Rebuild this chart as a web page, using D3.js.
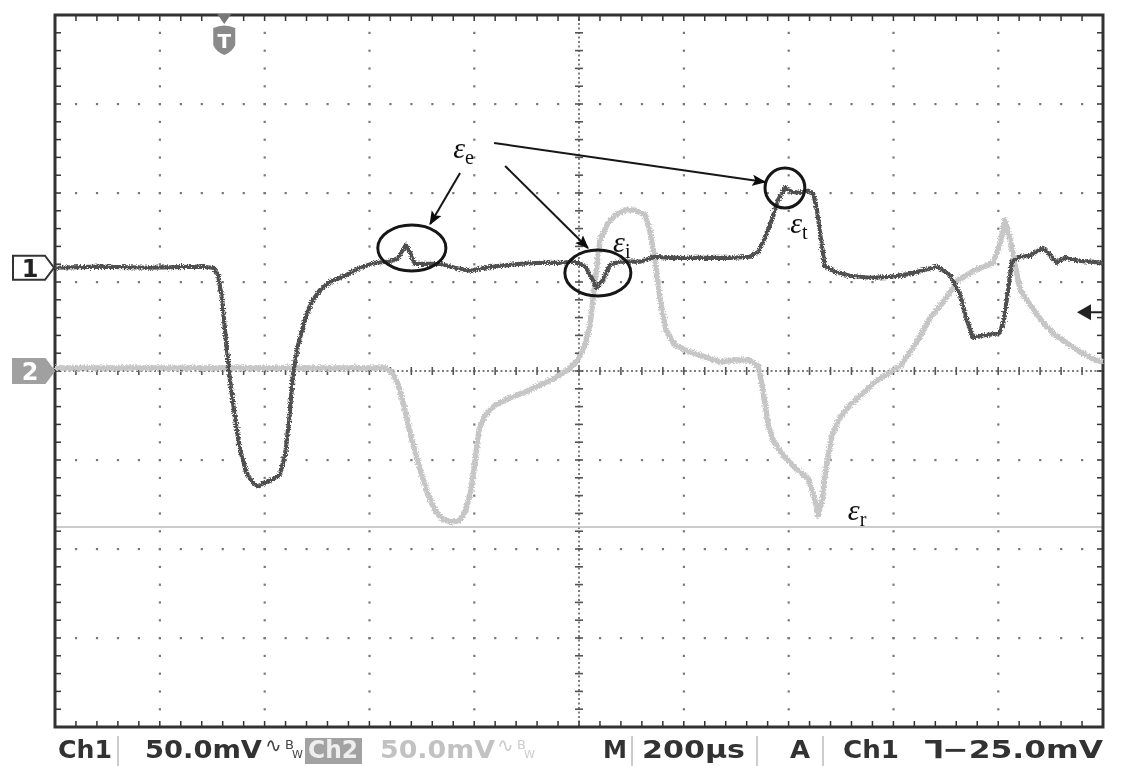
<!DOCTYPE html>
<html>
<head>
    <meta charset="utf-8">
    <title>D3.js 示波器波形</title>
    <script src="https://d3js.org/d3.v7.min.js"></script>
    <style>
        body { margin: 0; background: #fff; }
        .status { font-family: "DejaVu Sans", sans-serif; font-size: 25px; font-weight: bold; }
        .eps { font-family: "Liberation Serif", "DejaVu Serif", serif; font-style: italic; fill: #111; }
    </style>
</head>
<body>
<script>
// 示波器设置
var timePerDiv = 200;   // µs/div
var voltPerDiv = 50;    // mV/div
var ch1Pos = 1.16;      // div, Ch1 零位
var ch2Pos = 0;         // div, Ch2 零位
var triggerTime = 323;  // µs
var triggerLevel = -25; // mV (Ch1)
var cursorLevel = -87.6; // mV (Ch2) 光标线

// Ch1 (深色) 时间 µs / 电压 mV
var ch1Time = [0, 86, 181, 277, 302, 311, 319, 326, 334, 344, 353, 365, 376, 387, 399, 414, 429, 439, 447, 454,
    464, 477, 490, 506, 525, 553, 582, 611, 639, 655, 664, 670, 677, 687, 706, 735, 763, 792, 821, 849,
    887, 926, 964, 992, 1011, 1021, 1034, 1046, 1059, 1078, 1116, 1145, 1174, 1231, 1288, 1326, 1342, 1355, 1368, 1380,
    1393, 1406, 1422, 1437, 1447, 1454, 1462, 1469, 1489, 1517, 1555, 1594, 1632, 1660, 1683, 1708, 1727, 1740, 1752, 1765,
    1784, 1803, 1811, 1819, 1826, 1842, 1861, 1885, 1899, 1912, 1927, 1956, 1975, 2000];
var ch1mV = [0, 0.6, 0, 0.6, 0, -3.9, -18.0, -40.4, -62.9, -85.4, -102.2, -114.6, -120.2, -123.0, -120.8, -119.1, -116.3, -105.1, -85.4, -60.1,
    -43.3, -29.2, -19.1, -12.4, -7.9, -4.5, 0, 2.8, 3.4, 5.6, 10.1, 12.9, 9.0, 2.2, 2.2, 2.2, 0, -1.7, 0, 1.1,
    2.2, 2.8, 2.8, 3.4, 1.1, -3.9, -11.2, -6.7, 1.7, 3.4, 3.4, 6.2, 5.6, 5.6, 5.6, 6.2, 9.0, 16.9, 27.0, 38.2,
    44.9, 42.7, 42.1, 43.3, 41.6, 32.6, 15.7, 1.1, -2.2, -4.5, -5.6, -5.1, -3.4, -1.1, 0.6, -3.9, -15.2, -29.2, -39.3, -38.2,
    -37.6, -36.5, -29.2, -12.4, 3.4, 6.2, 6.7, 11.2, 7.3, 2.8, 5.6, 3.9, 3.4, 2.8];

// Ch2 (浅色) 时间 µs / 电压 mV
var ch2Time = [0, 181, 372, 563, 630, 643, 655, 668, 681, 697, 712, 727, 742, 758, 773, 784, 794, 802, 809, 821,
    840, 868, 897, 926, 954, 979, 998, 1011, 1021, 1031, 1040, 1053, 1069, 1088, 1107, 1126, 1135, 1145, 1155, 1166,
    1183, 1212, 1240, 1269, 1298, 1323, 1342, 1351, 1361, 1370, 1389, 1416, 1437, 1448, 1456, 1464, 1471, 1483, 1498, 1517,
    1536, 1565, 1594, 1613, 1641, 1670, 1698, 1723, 1756, 1790, 1803, 1813, 1823, 1832, 1842, 1861, 1885, 1908, 1937, 1966,
    1985, 2000];
var ch2mV = [1.7, 1.7, 1.7, 1.7, 1.7, -0.6, -7.9, -21.9, -38.8, -55.6, -69.7, -79.2, -83.7, -84.8, -83.7, -78.1, -66.9, -50.0, -33.1, -24.7,
    -19.1, -15.2, -11.8, -7.9, -3.9, 0.6, 6.2, 14.6, 25.8, 51.1, 73.6, 82.0, 87.6, 90.4, 90.4, 87.6, 79.2, 62.4, 39.9, 23.0,
    14.6, 10.7, 7.9, 5.1, 6.2, 6.2, 2.8, -10.7, -30.3, -38.8, -47.2, -55.6, -60.1, -69.7, -80.9, -72.5, -55.6, -36.0, -26.4, -19.1,
    -14.0, -6.2, -0.6, 2.8, 14.6, 29.8, 39.9, 51.1, 56.7, 60.7, 70.8, 84.8, 73.6, 59.6, 45.5, 37.1, 27.5, 20.2, 14.6, 9.0,
    6.2, 5.1];

// 标注 (屏幕坐标: 时间 µs, 电压 mV 相对屏幕中线)
var labelText = ["e", "i", "t", "r"];
var labelTime = [760, 1065, 1403, 1513];
var labelmV = [119.7, 66.9, 77.5, -83.7];
var ringTime = [681, 1036, 1393];
var ringmV = [69.1, 55.1, 102.8];
var ringRx = [65, 63, 38];   // µs
var ringRy = [12.9, 12.9, 11.2]; // mV
var arrowFrom = [[773, 111.2], [859, 115.2], [838, 128.1]];
var arrowTo = [[716, 82.6], [1017, 69.1], [1355, 106.2]];

// 状态栏文字
var statusText = ["Ch1", "50.0mV", "Ch2", "50.0mV", "M", "200\u00b5s", "A", "Ch1", "\u2142\u221225.0mV"];

// 设定SVG大小
var W = 1125, H = 766;
var plot = {left: 55, top: 15, right: 1103, bottom: 727};

var svg = d3.select("body").append("svg")
    .attr("width", W)
    .attr("height", H);

var defs = svg.append("defs");
defs.append("marker")
    .attr("id", "head")
    .attr("viewBox", "0 0 10 10")
    .attr("refX", 9).attr("refY", 5)
    .attr("markerWidth", 7).attr("markerHeight", 7)
    .attr("markerUnits", "strokeWidth")
    .attr("orient", "auto")
  .append("path")
    .attr("d", "M0,1 L10,5 L0,9 L2,5 Z")
    .attr("fill", "#111");
defs.append("filter").attr("id", "soft")
  .append("feGaussianBlur").attr("stdDeviation", 0.6);
// 波形毛刺效果
var rough = defs.append("filter").attr("id", "rough")
    .attr("x", "-5%").attr("y", "-5%").attr("width", "110%").attr("height", "110%");
rough.append("feTurbulence")
    .attr("type", "fractalNoise").attr("baseFrequency", 0.7).attr("numOctaves", 2).attr("result", "n");
rough.append("feDisplacementMap")
    .attr("in", "SourceGraphic").attr("in2", "n").attr("scale", 5)
    .attr("xChannelSelector", "R").attr("yChannelSelector", "G").attr("result", "d");
rough.append("feGaussianBlur").attr("in", "d").attr("stdDeviation", 0.5);

// 比例尺
var x = d3.scaleLinear().domain([0, 10 * timePerDiv]).range([plot.left, plot.right]);
var y = d3.scaleLinear().domain([-4 * voltPerDiv, 4 * voltPerDiv]).range([plot.bottom, plot.top]);

var g = svg.append("g").attr("filter", "url(#soft)");

// 网格点
var majorT = d3.range(0, 10 * timePerDiv + 1, timePerDiv);
var majorV = d3.range(-4 * voltPerDiv, 4 * voltPerDiv + 1, voltPerDiv);
var minorT = d3.range(0, 10 * timePerDiv + 1, timePerDiv / 5);
var minorV = d3.range(-4 * voltPerDiv, 4 * voltPerDiv + 1, voltPerDiv / 5);

var grid = g.append("g").attr("fill", "#777");
majorT.slice(1, -1).filter(function(t) { return t !== 5 * timePerDiv; }).forEach(function(t) {
    grid.selectAll(null).data(minorV.slice(1, -1)).enter().append("rect")
        .attr("x", x(t) - 1).attr("y", function(v) { return y(v) - 1; })
        .attr("width", 2.2).attr("height", 2.2);
});
majorV.slice(1, -1).filter(function(v) { return v !== 0; }).forEach(function(v) {
    grid.selectAll(null).data(minorT.slice(1, -1)).enter().append("rect")
        .attr("x", function(t) { return x(t) - 1; }).attr("y", y(v) - 1)
        .attr("width", 2.2).attr("height", 2.2);
});

// 中心十字线
var cross = g.append("g").attr("stroke", "#555");
cross.append("line")
    .attr("x1", x(0)).attr("x2", x(10 * timePerDiv))
    .attr("y1", y(0)).attr("y2", y(0))
    .attr("stroke-width", 1.5).attr("stroke-dasharray", "2,2.5");
cross.append("line")
    .attr("x1", x(5 * timePerDiv)).attr("x2", x(5 * timePerDiv))
    .attr("y1", y(-4 * voltPerDiv)).attr("y2", y(4 * voltPerDiv))
    .attr("stroke-width", 1.5).attr("stroke-dasharray", "2,2.5");
cross.selectAll(".tx").data(minorT).enter().append("line")
    .attr("x1", function(t) { return x(t); }).attr("x2", function(t) { return x(t); })
    .attr("y1", y(0) - 4).attr("y2", y(0) + 4).attr("stroke-width", 1.6);
cross.selectAll(".ty").data(minorV).enter().append("line")
    .attr("y1", function(v) { return y(v); }).attr("y2", function(v) { return y(v); })
    .attr("x1", x(5 * timePerDiv) - 4).attr("x2", x(5 * timePerDiv) + 4).attr("stroke-width", 1.6);

// Ch2 光标线
g.append("line")
    .attr("x1", x(0)).attr("x2", x(10 * timePerDiv))
    .attr("y1", y(cursorLevel + ch2Pos * voltPerDiv)).attr("y2", y(cursorLevel + ch2Pos * voltPerDiv))
    .attr("stroke", "#bbb").attr("stroke-width", 1.5);

// 边框及刻度
var frame = g.append("g").attr("stroke", "#333");
frame.append("rect")
    .attr("x", plot.left).attr("y", plot.top)
    .attr("width", plot.right - plot.left).attr("height", plot.bottom - plot.top)
    .attr("fill", "none").attr("stroke-width", 3);
frame.selectAll(".tt").data(minorT).enter().append("line")
    .attr("x1", function(t) { return x(t); }).attr("x2", function(t) { return x(t); })
    .attr("y1", plot.top).attr("y2", plot.top + 6).attr("stroke-width", 1.5);
frame.selectAll(".tb").data(minorT).enter().append("line")
    .attr("x1", function(t) { return x(t); }).attr("x2", function(t) { return x(t); })
    .attr("y1", plot.bottom).attr("y2", plot.bottom - 6).attr("stroke-width", 1.5);
frame.selectAll(".tl").data(minorV).enter().append("line")
    .attr("y1", function(v) { return y(v); }).attr("y2", function(v) { return y(v); })
    .attr("x1", plot.left).attr("x2", plot.left + 6).attr("stroke-width", 1.5);
frame.selectAll(".tr").data(minorV).enter().append("line")
    .attr("y1", function(v) { return y(v); }).attr("y2", function(v) { return y(v); })
    .attr("x1", plot.right).attr("x2", plot.right - 6).attr("stroke-width", 1.5);

// 波形
function trace(times, vals, pos) {
    return d3.line()
        .x(function(d, i) { return x(times[i]); })
        .y(function(d, i) { return y(vals[i] + pos * voltPerDiv); })(times);
}
var traces = svg.append("g").attr("filter", "url(#rough)");
traces.append("path")
    .attr("d", trace(ch2Time, ch2mV, ch2Pos))
    .attr("fill", "none").attr("stroke", "#c6c6c6").attr("stroke-width", 5.5)
    .attr("stroke-linejoin", "round");
traces.append("path")
    .attr("d", trace(ch1Time, ch1mV, ch1Pos))
    .attr("fill", "none").attr("stroke", "#505050").attr("stroke-width", 4.2)
    .attr("stroke-linejoin", "round");

var g2 = svg.append("g").attr("filter", "url(#soft)");

// 通道标记
function chanMarker(pos, filled, label) {
    var cy = y(pos * voltPerDiv);
    var m = g2.append("g");
    m.append("path")
        .attr("d", "M13," + (cy - 12) + " H45 L54," + cy + " L45," + (cy + 12) + " H13 Z")
        .attr("fill", filled ? "#a0a0a0" : "#fff")
        .attr("stroke", filled ? "#a0a0a0" : "#333").attr("stroke-width", 2);
    m.append("text")
        .attr("x", 30).attr("y", cy + 9)
        .attr("text-anchor", "middle")
        .attr("font-family", "DejaVu Sans, sans-serif").attr("font-weight", "bold").attr("font-size", 24)
        .attr("fill", filled ? "#fff" : "#222")
        .text(label);
}
chanMarker(ch1Pos, false, "1");
chanMarker(ch2Pos, true, "2");

// 触发标记 T
var tx = x(triggerTime);
g2.append("path")
    .attr("d", "M" + (tx - 7) + "," + (plot.top - 1) + " L" + (tx + 7) + "," + (plot.top - 1) + " L" + tx + "," + (plot.top + 9) + " Z")
    .attr("fill", "#777");
g2.append("path")
    .attr("d", "M" + (tx - 11) + ",28 Q" + tx + ",23 " + (tx + 11) + ",28 V45 Q" + (tx + 8) + ",52 " + tx + ",55 Q" + (tx - 8) + ",52 " + (tx - 11) + ",45 Z")
    .attr("fill", "#8a8a8a");
g2.append("text")
    .attr("x", tx).attr("y", 48)
    .attr("text-anchor", "middle")
    .attr("font-family", "DejaVu Sans, sans-serif").attr("font-weight", "bold").attr("font-size", 20)
    .attr("fill", "#fff")
    .text("T");

// 触发电平箭头
var ty = y(triggerLevel + ch1Pos * voltPerDiv);
g2.append("path")
    .attr("d", "M" + (plot.right - 26) + "," + ty + " L" + (plot.right - 12) + "," + (ty - 8) + " L" + (plot.right - 12) + "," + (ty + 8) + " Z")
    .attr("fill", "#222");
g2.append("line")
    .attr("x1", plot.right - 14).attr("x2", plot.right)
    .attr("y1", ty).attr("y2", ty)
    .attr("stroke", "#222").attr("stroke-width", 2);

// 标注圈
g2.append("g").selectAll("ellipse").data(ringTime).enter().append("ellipse")
    .attr("cx", function(d) { return x(d); })
    .attr("cy", function(d, i) { return y(ringmV[i]); })
    .attr("rx", function(d, i) { return x(d + ringRx[i]) - x(d); })
    .attr("ry", function(d, i) { return y(0) - y(ringRy[i]); })
    .attr("fill", "none").attr("stroke", "#151515").attr("stroke-width", 3);

// 箭头
g2.append("g").selectAll("line").data(arrowFrom).enter().append("line")
    .attr("x1", function(d) { return x(d[0]); })
    .attr("y1", function(d) { return y(d[1]); })
    .attr("x2", function(d, i) { return x(arrowTo[i][0]); })
    .attr("y2", function(d, i) { return y(arrowTo[i][1]); })
    .attr("stroke", "#151515").attr("stroke-width", 2)
    .attr("marker-end", "url(#head)");

// ε 标签
var eps = g2.append("g").selectAll("text").data(labelText).enter().append("text")
    .attr("class", "eps")
    .attr("x", function(d, i) { return x(labelTime[i]); })
    .attr("y", function(d, i) { return y(labelmV[i]); })
    .attr("font-size", 30);
eps.append("tspan").text("\u03b5");
eps.append("tspan")
    .attr("font-size", 20).attr("dy", 6).attr("font-style", "normal")
    .text(function(d) { return d; });

// 底部状态栏
var bar = svg.append("g").attr("filter", "url(#soft)");
[118, 632, 757, 823].forEach(function(bx) {
    bar.append("line")
        .attr("x1", bx).attr("x2", bx).attr("y1", 736).attr("y2", 766)
        .attr("stroke", "#bbb").attr("stroke-width", 1.5);
});
bar.append("rect")
    .attr("x", 305).attr("y", 738).attr("width", 57).attr("height", 26)
    .attr("fill", "#a2a2a2");

var statusX = [58, 145, 308, 380, 603, 642, 790, 843, 925];
var statusW = [54, 117, 50, 115, 24, 103, 20, 56, 178];
var statusFill = ["#333", "#333", "#eee", "#c2c2c2", "#333", "#333", "#333", "#333", "#333"];
bar.selectAll("text.status").data(statusText).enter().append("text")
    .attr("class", "status")
    .attr("x", function(d, i) { return statusX[i]; })
    .attr("y", 758)
    .attr("textLength", function(d, i) { return statusW[i]; })
    .attr("lengthAdjust", "spacingAndGlyphs")
    .attr("fill", function(d, i) { return statusFill[i]; })
    .text(function(d) { return d; });

// 耦合/带宽符号
[[265, "#444"], [497, "#ccc"]].forEach(function(s) {
    bar.append("text")
        .attr("x", s[0]).attr("y", 752)
        .attr("font-family", "DejaVu Sans, sans-serif").attr("font-size", 20)
        .attr("fill", s[1]).text("\u223f");
    bar.append("text")
        .attr("x", s[0] + 20).attr("y", 749)
        .attr("font-family", "DejaVu Sans, sans-serif").attr("font-size", 13)
        .attr("fill", s[1]).text("B");
    bar.append("text")
        .attr("x", s[0] + 27).attr("y", 758)
        .attr("font-family", "DejaVu Sans, sans-serif").attr("font-size", 11)
        .attr("fill", s[1]).text("W");
});
</script>
</body>
</html>
